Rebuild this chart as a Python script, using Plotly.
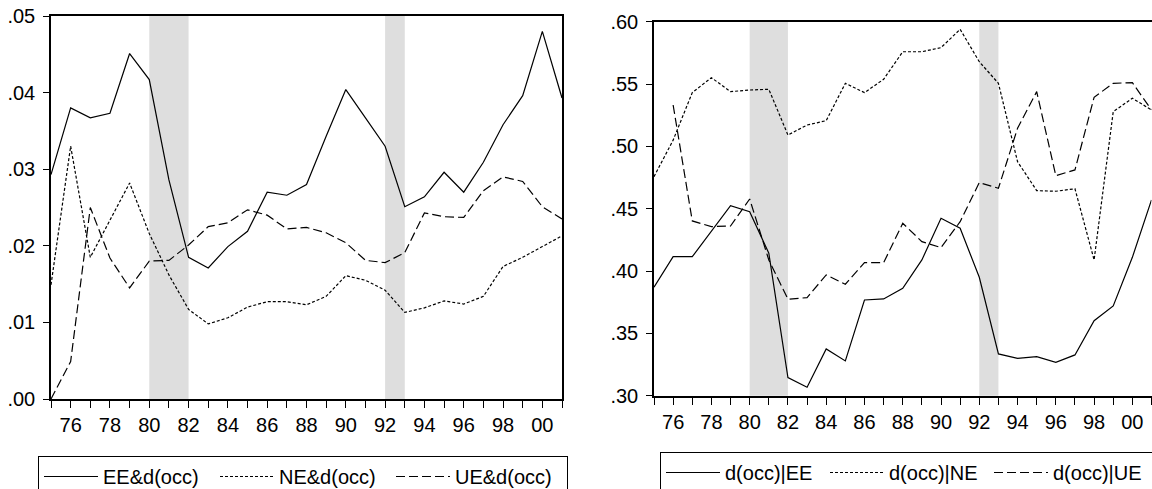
import plotly.graph_objects as go

years = [1975, 1976, 1977, 1978, 1979, 1980, 1981, 1982, 1983, 1984, 1985, 1986, 1987,
         1988, 1989, 1990, 1991, 1992, 1993, 1994, 1995, 1996, 1997, 1998, 1999, 2000, 2001]

# Left panel
ee_docc = [0.0293, 0.0380, 0.0367, 0.0373, 0.0451, 0.0417, 0.0286, 0.0185, 0.0171, 0.0199,
           0.0219, 0.0270, 0.0266, 0.0280, 0.0343, 0.0404, 0.0367, 0.0330, 0.0251, 0.0264,
           0.0296, 0.0270, 0.0309, 0.0358, 0.0396, 0.0480, 0.0393]
ne_docc = [0.0149, 0.0330, 0.0185, 0.0233, 0.0282, 0.0216, 0.0162, 0.0117, 0.0098, 0.0106,
           0.0120, 0.0127, 0.0127, 0.0123, 0.0134, 0.0161, 0.0155, 0.0142, 0.0113, 0.0119,
           0.0128, 0.0124, 0.0134, 0.0173, 0.0185, 0.0199, 0.0213]
ue_docc = [0.0000, 0.0049, 0.0250, 0.0184, 0.0145, 0.0180, 0.0181, 0.0201, 0.0225, 0.0230,
           0.0247, 0.0240, 0.0222, 0.0224, 0.0217, 0.0204, 0.0181, 0.0178, 0.0191, 0.0243,
           0.0238, 0.0237, 0.0272, 0.0290, 0.0284, 0.0251, 0.0235]

# Right panel
docc_ee = [0.3870, 0.4115, 0.4115, 0.4324, 0.4524, 0.4476, 0.4143, 0.3145, 0.3068, 0.3375,
           0.3279, 0.3768, 0.3776, 0.3862, 0.4089, 0.4423, 0.4343, 0.3950, 0.3335, 0.3300,
           0.3313, 0.3268, 0.3327, 0.3602, 0.3720, 0.4110, 0.4570]
docc_ne = [0.4757, 0.5050, 0.5431, 0.5551, 0.5439, 0.5452, 0.5458, 0.5091, 0.5171, 0.5206,
           0.5506, 0.5431, 0.5538, 0.5759, 0.5759, 0.5792, 0.5939, 0.5679, 0.5506, 0.4877,
           0.4645, 0.4640, 0.4660, 0.4089, 0.5278, 0.5386, 0.5292]
docc_ue = [None, 0.5332, 0.4402, 0.4356, 0.4361, 0.4578, 0.4089, 0.3774, 0.3787, 0.3969,
           0.3894, 0.4067, 0.4067, 0.4383, 0.4236, 0.4188, 0.4396, 0.4709, 0.4664, 0.5145,
           0.5439, 0.4765, 0.4811, 0.5394, 0.5506, 0.5511, 0.5292]

recessions = [(1980, 1982), (1992, 1993)]

x_tick_vals = years
x_tick_text = ["", "76", "", "78", "", "80", "", "82", "", "84", "", "86", "", "88", "",
               "90", "", "92", "", "94", "", "96", "", "98", "", "00", ""]
y1_tick_vals = [0.00, 0.01, 0.02, 0.03, 0.04, 0.05]
y1_tick_text = [".00", ".01", ".02", ".03", ".04", ".05"]
y2_tick_vals = [0.30, 0.35, 0.40, 0.45, 0.50, 0.55, 0.60]
y2_tick_text = [".30", ".35", ".40", ".45", ".50", ".55", ".60"]

W, H = 1152, 489
FONT = "Liberation Sans, Arial, sans-serif"
SOLID = "solid"
SHORT = "3px,2px"
LONG = "9px,4px"

fig = go.Figure()

def add(x, y, name, dash, xa, ya, legend):
    fig.add_trace(go.Scatter(x=x, y=y, name=name, mode="lines",
                             line=dict(color="black", width=1.2, dash=dash),
                             xaxis=xa, yaxis=ya, legend=legend,
                             connectgaps=False, hoverinfo="skip"))

add(years, ee_docc, "EE&d(occ)", SOLID, "x", "y", "legend")
add(years, ne_docc, "NE&d(occ)", SHORT, "x", "y", "legend")
add(years, ue_docc, "UE&d(occ)", LONG, "x", "y", "legend")
add(years, docc_ee, "d(occ)|EE", SOLID, "x2", "y2", "legend2")
add(years, docc_ne, "d(occ)|NE", SHORT, "x2", "y2", "legend2")
add(years, docc_ue, "d(occ)|UE", LONG, "x2", "y2", "legend2")

for (a, b) in recessions:
    for xr, yr in (("x", "y domain"), ("x2", "y2 domain")):
        fig.add_shape(type="rect", xref=xr, yref=yr, x0=a, x1=b, y0=0, y1=1,
                      fillcolor="#dedede", line=dict(width=0), layer="below")

def xaxis(domain, anchor):
    return dict(domain=domain, anchor=anchor, range=[1975, 2001],
                tickmode="array", tickvals=x_tick_vals, ticktext=x_tick_text,
                ticks="outside", ticklen=7, tickwidth=1, tickcolor="black",
                showline=True, linecolor="black", linewidth=1.6, mirror=True,
                showgrid=False, zeroline=False, automargin=False,
                tickfont=dict(family=FONT, size=20, color="black"))

def yaxis(domain, anchor, rng, vals, text):
    return dict(domain=domain, anchor=anchor, range=rng,
                tickmode="array", tickvals=vals, ticktext=text,
                ticks="outside", ticklen=6, tickwidth=1, tickcolor="black",
                showline=True, linecolor="black", linewidth=1.6, mirror=True,
                showgrid=False, zeroline=False, ticklabelstandoff=4, automargin=False,
                tickfont=dict(family=FONT, size=20, color="black"))

fig.update_layout(
    width=W, height=H,
    margin=dict(l=0, r=0, t=0, b=0, autoexpand=False),
    paper_bgcolor="white", plot_bgcolor="white",
    font=dict(family=FONT, size=20, color="black"),
    xaxis=xaxis([51 / W, 562 / W], "y"),
    yaxis=yaxis([(H - 399) / H, (H - 16) / H], "x", [0, 0.05], y1_tick_vals, y1_tick_text),
    xaxis2=xaxis([654 / W, 1151.5 / W], "y2"),
    yaxis2=yaxis([(H - 395.7) / H, (H - 21.7) / H], "x2", [0.30, 0.60], y2_tick_vals, y2_tick_text),
    legend=dict(x=38 / W, y=(H - 456) / H, xanchor="left", yanchor="top",
                orientation="h", bordercolor="black", borderwidth=1, bgcolor="white",
                font=dict(family=FONT, size=20, color="black"),
                entrywidth=107, entrywidthmode="pixels", itemwidth=54, tracegroupgap=0),
    legend2=dict(x=660 / W, y=(H - 452) / H, xanchor="left", yanchor="top",
                 orientation="h", bordercolor="black", borderwidth=1, bgcolor="white",
                 font=dict(family=FONT, size=20, color="black"),
                 entrywidth=95, entrywidthmode="pixels", itemwidth=54, tracegroupgap=0),
    showlegend=True,
    hovermode=False,
)

fig.write_html("out.html", config={"displayModeBar": False},
               post_script="document.body.style.margin='0px';document.body.style.overflow='hidden';")
